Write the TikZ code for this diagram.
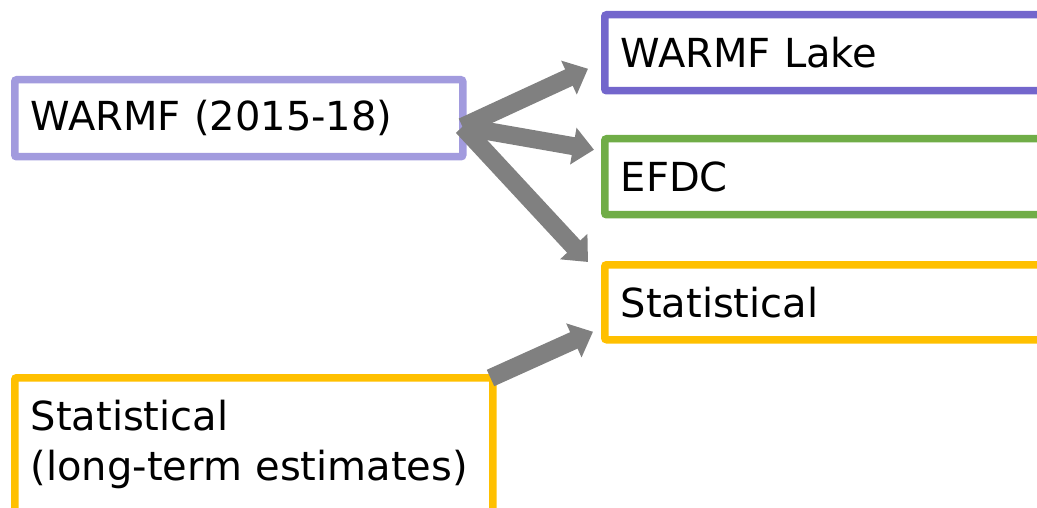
\documentclass[tikz,border=0pt]{standalone}
\usepackage{fontspec}
\setmainfont{DejaVu Sans}
\usepackage{xcolor}
\usepackage{tikz}
\usetikzlibrary{arrows.meta}

\definecolor{srcpurple}{HTML}{A29BDE}
\definecolor{lakepurple}{HTML}{7366CC}
\definecolor{efdcgreen}{HTML}{70AD47}
\definecolor{statorange}{HTML}{FFC000}
\definecolor{arrowgray}{HTML}{808080}

\begin{document}
\begin{tikzpicture}[x=1pt, y=-1pt,
    modelbox/.style={draw=#1, line width=7.5pt, rounded corners=2pt, fill=white,
        anchor=north west, inner xsep=16pt, inner ysep=0pt, align=left,
        font=\fontsize{40}{50}\selectfont},
    feed/.style={draw=arrowgray, line width=18pt,
        -{Triangle[length=21pt, width=36pt]}}]
    % Fix picture size
    \clip (0,0) rectangle (1037,508);

    % Draw model boxes
    \node[modelbox=srcpurple, text width=416pt, minimum height=77pt] (warmf) at (11,76) {WARMF (2015-18)};
    \node[modelbox=lakepurple, text width=412pt, minimum height=76pt] (lake) at (601,11) {WARMF Lake};
    \node[modelbox=efdcgreen, text width=412pt, minimum height=76pt] (efdc) at (601,135) {EFDC};
    \node[modelbox=statorange, text width=412pt, minimum height=75pt] (stat) at (601,261) {Statistical};
    \node[modelbox=statorange, text width=446pt, minimum height=134pt] (longterm) at (11,374) {Statistical\\(long-term estimates)};

    % Draw arrows
    \draw[feed] ([shift={(-4,8.5)}]warmf.east) -- ([shift={(-13,16)}]lake.west);
    \draw[feed] ([shift={(-4,8.5)}]warmf.east) -- ([shift={(-7,-27)}]efdc.west);
    \draw[feed] ([shift={(-4,8.5)}]warmf.east) -- ([shift={(-13,1)}]stat.north west);
    \draw[feed] ([shift={(-6,4)}]longterm.north east) -- ([shift={(-8,29.5)}]stat.west);
\end{tikzpicture}
\end{document}
